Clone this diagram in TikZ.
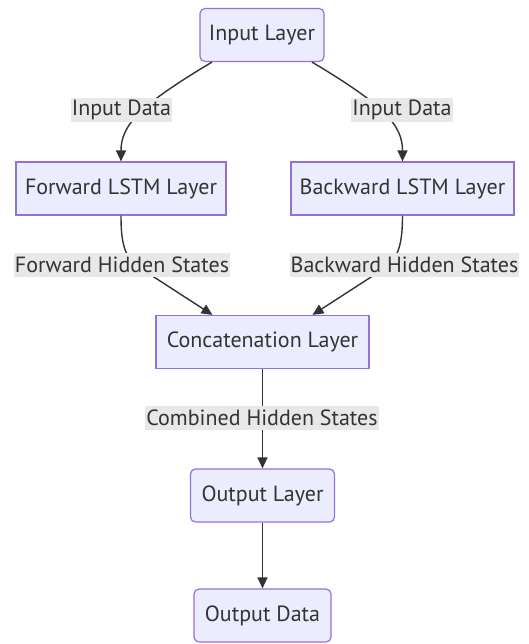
\documentclass[tikz,border=0pt]{standalone}
\usepackage{fontspec}
\setmainfont{PT Sans}
\usetikzlibrary{arrows.meta}
\definecolor{boxfill}{HTML}{ECECFF}
\definecolor{boxline}{HTML}{9370DB}
\definecolor{ink}{HTML}{333333}
\definecolor{lblfill}{HTML}{E8E8E8}
\tikzset{
  layerbox/.style={draw=boxline, fill=boxfill, line width=1.2pt, minimum height=53pt,
    inner sep=0pt, text=ink, font=\fontsize{22}{26}\selectfont},
  roundbox/.style={layerbox, rounded corners=5pt},
  squarebox/.style={layerbox},
  edgelbl/.style={fill=lblfill, text=ink, inner xsep=1pt, inner ysep=0pt,
    minimum height=24pt, font=\fontsize{22}{26}\selectfont},
  flow/.style={draw=ink, line width=1.4pt, -{Triangle[length=11pt,width=10pt]}},
}
\begin{document}
\begin{tikzpicture}[x=1pt,y=-1pt]
\useasboundingbox (0,0) rectangle (528,644);

% layer boxes
\node[roundbox, minimum width=124pt] (in) at (262,35) {Input Layer};
\node[squarebox, minimum width=210pt] (fw) at (121,188.5) {Forward LSTM Layer};
\node[squarebox, minimum width=223pt] (bw) at (402.5,188.5) {Backward LSTM Layer};
\node[squarebox, minimum width=213pt] (cc) at (262.5,342) {Concatenation Layer};
\node[roundbox, minimum width=144pt] (ol) at (262.5,495.5) {Output Layer};
\node[roundbox, minimum width=137pt] (od) at (262.5,615.5) {Output Data};

% connectors
\draw[flow] ([xshift=-50pt]in.south) .. controls (140,105) and (121,125) .. (fw.north);
\draw[flow] ([xshift=50pt]in.south) .. controls (384,105) and (402.5,125) .. (bw.north);
\draw[flow] (fw.south) .. controls (121,245) and (125,258) .. (140,268) -- ([xshift=-50pt]cc.north);
\draw[flow] (bw.south) .. controls (402.5,245) and (398,258) .. (385,268) -- ([xshift=50pt]cc.north);
\draw[flow] (cc.south) -- (ol.north);
\draw[flow] (ol.south) -- (od.north);

% edge labels
\node[edgelbl] (l1) at (121.5,110) {Input Data};
\node[edgelbl] (l2) at (402,110) {Input Data};
\node[edgelbl] (l3) at (122,265) {Forward Hidden States};
\node[edgelbl] (l4) at (404.5,265) {Backward Hidden States};
\node[edgelbl] (l5) at (262,418) {Combined Hidden States};
\end{tikzpicture}
\end{document}
